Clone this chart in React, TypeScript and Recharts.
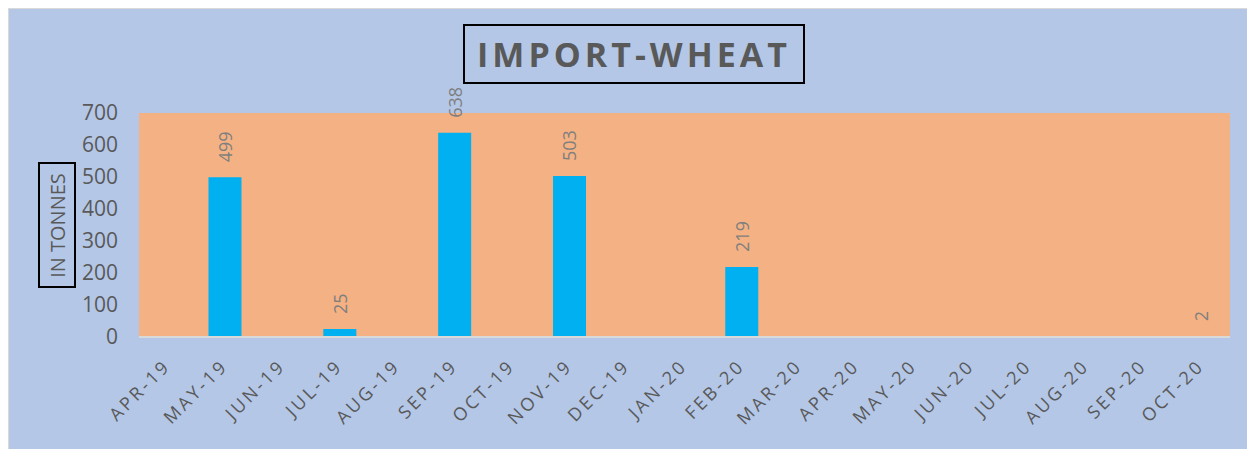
import { BarChart, Bar, XAxis, YAxis, LabelList } from "recharts";

const months = [
  "APR-19", "MAY-19", "JUN-19", "JUL-19", "AUG-19", "SEP-19", "OCT-19",
  "NOV-19", "DEC-19", "JAN-20", "FEB-20", "MAR-20", "APR-20", "MAY-20",
  "JUN-20", "JUL-20", "AUG-20", "SEP-20", "OCT-20",
];
const tonnes = [0, 499, 0, 25, 0, 638, 0, 503, 0, 0, 219, 0, 0, 0, 0, 0, 0, 0, 2];
const yTicks = [0, 100, 200, 300, 400, 500, 600, 700];

const data = months.map((m, i) => ({ month: m, value: tonnes[i] }));

const FONT = "'Open Sans', sans-serif";

const MonthTick = ({ x, y, payload }) => {
  const ax = x + 4;
  const ay = y + 30;
  return (
    <text
      x={ax}
      y={ay}
      transform={`rotate(-45 ${ax} ${ay})`}
      textAnchor="end"
      fill="#595959"
      fontSize={18}
      letterSpacing={3}
      fontFamily={FONT}
    >
      {payload.value}
    </text>
  );
};

const ValueLabel = ({ x, y, width, value }) => {
  if (!value) return null;
  const cx = x + width / 2;
  const cy = y - 15;
  return (
    <text
      x={cx}
      y={cy}
      transform={`rotate(-90 ${cx} ${cy})`}
      textAnchor="start"
      dominantBaseline="central"
      fill="#7F7F7F"
      fontSize={18}
      fontFamily={FONT}
    >
      {value}
    </text>
  );
};

export default function App() {
  return (
    <div
      style={{
        position: "relative",
        width: 1247,
        height: 441,
        background: "#B4C7E7",
        borderLeft: "1px solid #D9D9D9",
        borderTop: "1px solid #D9D9D9",
        fontFamily: FONT,
      }}
    >
      <div
        style={{
          position: "absolute",
          left: 454,
          top: 15,
          width: 338,
          height: 56,
          border: "2px solid #000",
          display: "flex",
          alignItems: "center",
          justifyContent: "center",
          color: "#595959",
          fontWeight: 700,
          fontSize: 34,
          letterSpacing: 4,
        }}
      >
        IMPORT-WHEAT
      </div>
      <div
        style={{
          position: "absolute",
          left: 29,
          top: 153,
          width: 34,
          height: 122,
          border: "2px solid #000",
          display: "flex",
          alignItems: "center",
          justifyContent: "center",
        }}
      >
        <span
          style={{
            transform: "rotate(-90deg)",
            whiteSpace: "nowrap",
            color: "#595959",
            fontSize: 20,
          }}
        >
          IN TONNES
        </span>
      </div>
      <div style={{ position: "absolute", left: 0, top: 0 }}>
        <BarChart
          width={1247}
          height={441}
          data={data}
          margin={{ top: 104, right: 26, bottom: 0, left: 70 }}
          barCategoryGap="21%"
        >
          <rect x={130} y={104} width={1091} height={224} fill="#F4B183" />
          <XAxis
            dataKey="month"
            interval={0}
            height={113}
            tickSize={0}
            tickMargin={0}
            tickLine={false}
            stroke="#D9D9D9"
            strokeWidth={2}
            tick={<MonthTick />}
          />
          <YAxis
            domain={[0, 700]}
            ticks={yTicks}
            width={60}
            axisLine={false}
            tickLine={false}
            tickSize={0}
            tickMargin={21}
            tick={{ fill: "#595959", fontSize: 21, fontFamily: FONT }}
          />
          <Bar dataKey="value" fill="#00B0F0" isAnimationActive={false}>
            <LabelList dataKey="value" content={<ValueLabel />} />
          </Bar>
        </BarChart>
      </div>
    </div>
  );
}
